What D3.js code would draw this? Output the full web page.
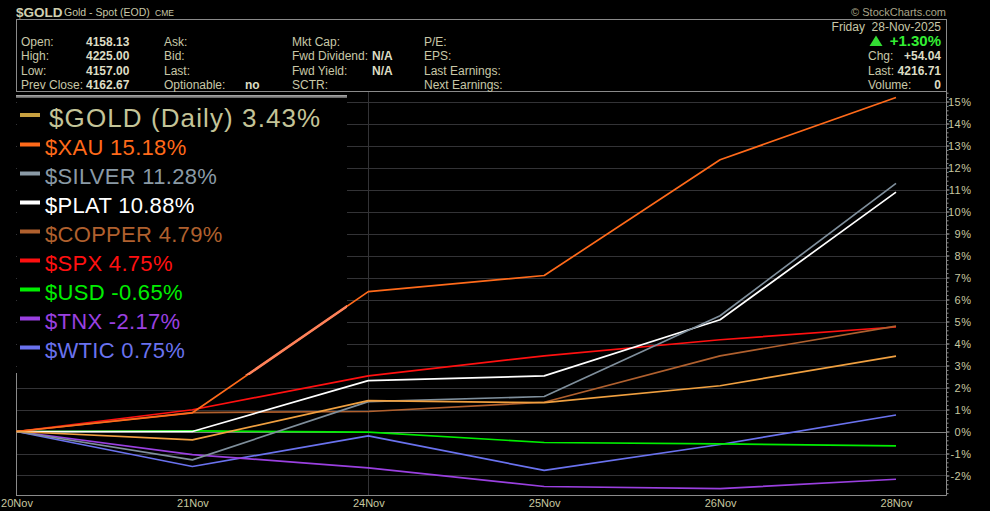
<!DOCTYPE html>
<html><head><meta charset="utf-8">
<script src="https://cdn.jsdelivr.net/npm/d3@7/dist/d3.min.js"></script>
<style>
html,body{margin:0;padding:0;background:#000;}
svg{display:block;}
text{font-family:"Liberation Sans",Arial,sans-serif;}
</style></head>
<body>
<svg id="chart" width="990" height="511"></svg>
<script>
// ---- data ----
const dates = ["20Nov","21Nov","24Nov","25Nov","26Nov","28Nov"];
const seriesNames = ["$GOLD (Daily)","$XAU","$SILVER","$PLAT","$COPPER","$SPX","$USD","$TNX","$WTIC"];
const goldVals   = [0, -0.38, 1.40, 1.31, 2.08, 3.43];
const xauVals    = [0, 0.85, 6.36, 7.09, 12.35, 15.18];
const silverVals = [0, -1.29, 1.36, 1.59, 5.26, 11.28];
const platVals   = [0, 0.00, 2.31, 2.53, 5.08, 10.88];
const copperVals = [0, 0.86, 0.91, 1.33, 3.44, 4.79];
const spxVals    = [0, 0.99, 2.53, 3.44, 4.17, 4.75];
const usdVals    = [0, 0.03, -0.03, -0.50, -0.56, -0.65];
const tnxVals    = [0, -1.05, -1.65, -2.50, -2.60, -2.17];
const wticVals   = [0, -1.59, -0.20, -1.77, -0.59, 0.75];
const lineColors = ["#f0a040","#ff6a1a","#7f8f9c","#ffffff","#b0602e","#ff1010","#00ee00","#9a40e0","#6a72ee"];
const swatchColors = ["#c8a040","#ff6a1a","#8a9aa6","#ffffff","#b0602e","#ff1010","#00ee00","#9a40e0","#6a72ee"];
const textColors = ["#c4c498","#ff6a1a","#8a9aa6","#ffffff","#b0602e","#ff1010","#00ee00","#9a40e0","#6a72ee"];
const yTicks = [-2,-1,0,1,2,3,4,5,6,7,8,9,10,11,12,13,14,15];
const gridDates = ["24Nov"];

const allVals = [goldVals,xauVals,silverVals,platVals,copperVals,spxVals,usdVals,tnxVals,wticVals];
const series = seriesNames.map((n,i)=>({name:n, values:allVals[i], color:lineColors[i], swatch:swatchColors[i], text:textColors[i], last:allVals[i][allVals[i].length-1]}));

// ---- layout ----
const svg = d3.select("#chart");
const L = 16, R = 946.5, T = 91.5, B = 495.5;
const x = d3.scalePoint().domain(dates).range([16.5, 896]);
const y = d3.scaleLinear().domain([0, 15]).range([431.5, 101.5]);

// horizontal grid
svg.append("g").selectAll("line").data(yTicks).join("line")
  .attr("x1", L).attr("x2", R)
  .attr("y1", d=>Math.round(y(d))+0.5).attr("y2", d=>Math.round(y(d))+0.5)
  .attr("stroke", d=> d===0 ? "#808080" : "#333336").attr("stroke-width",1);
// vertical grid
svg.append("g").selectAll("line").data(gridDates).join("line")
  .attr("x1", d=>Math.round(x(d))+0.5).attr("x2", d=>Math.round(x(d))+0.5)
  .attr("y1", T).attr("y2", B).attr("stroke","#333336");

// legend background
svg.append("rect").attr("x",17).attr("y",92).attr("width",330).attr("height",280).attr("fill","#000");

// frame
svg.append("rect").attr("x",16.5).attr("y",19.5).attr("width",930).attr("height",72)
  .attr("fill","none").attr("stroke","#8a8a8a");
svg.append("path").attr("d",`M${R},${T}V${B}H${L}`).attr("fill","none").attr("stroke","#8a8a8a");
svg.append("line").attr("x1",16.5).attr("x2",16.5).attr("y1",373).attr("y2",B).attr("stroke","#8a8a8a");

// lines
const line = d3.line().x((d,i)=>x(dates[i])).y(d=>y(d));
const drawOrder = series.slice().reverse();
svg.append("g").selectAll("path").data(drawOrder).join("path")
  .attr("d", d=>line(d.values)).attr("fill","none")
  .attr("stroke", d=>d.color).attr("stroke-width",1.7).attr("stroke-linejoin","round");

// lighter overlay inside legend region
svg.append("clipPath").attr("id","legclip").append("rect").attr("x",17).attr("y",92).attr("width",330).attr("height",283);
svg.append("g").attr("clip-path","url(#legclip)").selectAll("path").data(drawOrder).join("path")
  .attr("d", d=>line(d.values)).attr("fill","none")
  .attr("stroke", d=>d3.interpolateRgb(d.color,"#ff9a9a")(0.5)).attr("stroke-width",2.6);

// legend top bar
const grad = svg.append("defs").append("linearGradient").attr("id","bar").attr("x1",0).attr("x2",0).attr("y1",0).attr("y2",1);
grad.append("stop").attr("offset","0%").attr("stop-color","#b0b0b0");
grad.append("stop").attr("offset","100%").attr("stop-color","#5a5a5a");
svg.append("rect").attr("x",16).attr("y",95).attr("width",331).attr("height",3).attr("fill","url(#bar)");

// legend entries
const lg = svg.append("g");
series.forEach((s,i)=>{
  const base = i===0 ? 127 : 155 + (i-1)*29;
  const sy = i===0 ? base-12 : base-10.5;
  lg.append("rect").attr("x",20).attr("y",sy-2).attr("width",20).attr("height",4).attr("fill",s.swatch);
  lg.append("text").attr("x", i===0?49:45).attr("y",base)
    .attr("font-size", i===0?26:22).attr("fill",s.text)
    .attr("letter-spacing", i===0?1.1:0.3)
    .text(`${s.name} ${s.last.toFixed(2)}%`);
});

// right axis
const minor = d3.range(-28, 155, 2).map(v=>v/10);
svg.append("g").attr("transform",`translate(${R},0)`)
  .call(d3.axisRight(y).tickValues(minor).tickSize(2).tickFormat(""))
  .call(g=>{g.select(".domain").remove(); g.selectAll("line").attr("stroke","#8a8a8a");});
const ax = svg.append("g").attr("transform",`translate(${R},0)`)
  .call(d3.axisRight(y).tickValues(yTicks).tickSize(3).tickPadding(2).tickFormat(d=>d+"%"));
ax.select(".domain").remove();
ax.selectAll("line").attr("stroke","#8a8a8a");
ax.selectAll("text").attr("x",25).attr("text-anchor","end").attr("fill","#c8c8a0")
  .attr("font-size",11).attr("font-family","Liberation Sans, Arial, sans-serif").attr("letter-spacing","0.5");

// bottom axis
const bx = svg.append("g").attr("transform",`translate(0,${B})`)
  .call(d3.axisBottom(x).tickSize(0).tickPadding(4));
bx.select(".domain").remove();
bx.selectAll("text").attr("fill","#c8c8a0").attr("font-size",11).attr("font-family","Liberation Sans, Arial, sans-serif");

// header
const hd = svg.append("g");
hd.append("text").attr("x",16).attr("y",16.5).attr("font-size",13.5).attr("font-weight","bold").attr("fill","#d0d0b0").text("$GOLD");
hd.append("text").attr("x",64).attr("y",16).attr("font-size",10.5).attr("fill","#c8c8a8").text("Gold - Spot (EOD)");
hd.append("text").attr("x",155).attr("y",16).attr("font-size",8.5).attr("fill","#c8c8a8").text("CME");
hd.append("text").attr("x",946).attr("y",15.5).attr("font-size",11).attr("text-anchor","end").attr("fill","#a8a488").text("© StockCharts.com");

const rowsY = [45.5, 60, 74.5, 89];
const labelCol = (xx, arr)=>arr.forEach((t,i)=>{ if(t) hd.append("text").attr("x",xx).attr("y",rowsY[i]).attr("font-size",12).attr("fill","#c8c8a8").text(t);});
const valCol = (xx, arr)=>arr.forEach((t,i)=>{ if(t) hd.append("text").attr("x",xx).attr("y",rowsY[i]).attr("font-size",12).attr("font-weight","bold").attr("fill","#dcdcc4").text(t);});
labelCol(21, ["Open:","High:","Low:","Prev Close:"]);
valCol(86, ["4158.13","4225.00","4157.00","4162.67"]);
labelCol(164, ["Ask:","Bid:","Last:","Optionable:"]);
valCol(245, [null,null,null,"no"]);
labelCol(292, ["Mkt Cap:","Fwd Dividend:","Fwd Yield:","SCTR:"]);
valCol(372, [null,"N/A","N/A",null]);
labelCol(424, ["P/E:","EPS:","Last Earnings:","Next Earnings:"]);

hd.append("text").attr("x",941).attr("y",30.5).attr("font-size",12).attr("text-anchor","end").attr("fill","#c8c8a8").attr("xml:space","preserve").text("Friday  28-Nov-2025");
hd.append("path").attr("d","M876,35.5L882.5,46L869.5,46Z").attr("fill","#33dd33");
hd.append("text").attr("x",941).attr("y",46).attr("font-size",15).attr("font-weight","bold").attr("text-anchor","end").attr("fill","#33ee33").text("+1.30%");
labelCol(868, [null,"Chg:","Last:","Volume:"]);
[null,"+54.04","4216.71","0"].forEach((t,i)=>{ if(t) hd.append("text").attr("x",941).attr("y",rowsY[i]).attr("font-size",12).attr("font-weight","bold").attr("text-anchor","end").attr("fill","#dcdcc4").text(t);});
</script>
</body></html>
